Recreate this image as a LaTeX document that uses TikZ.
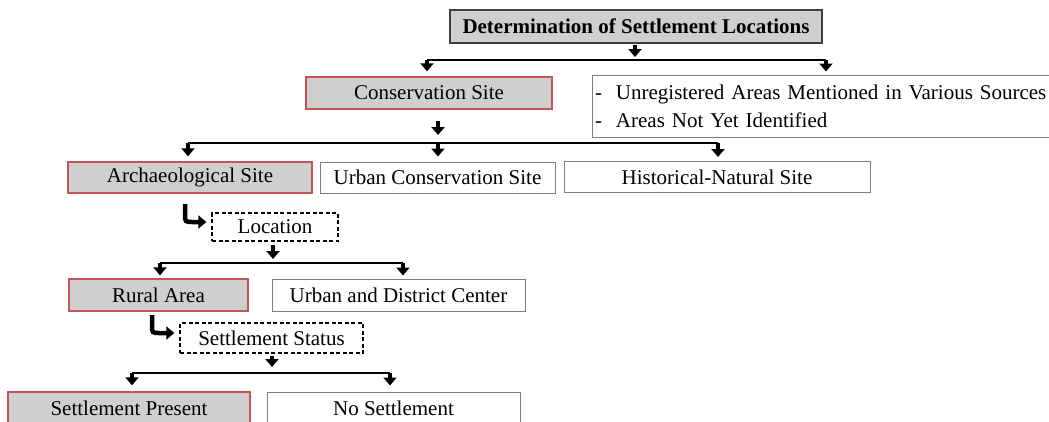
\documentclass[tikz,border=0pt]{standalone}
\usepackage{fontspec}
\setmainfont{Liberation Serif}
\usetikzlibrary{arrows.meta,calc}
\definecolor{boxgray}{RGB}{208,206,206}
\definecolor{boxred}{RGB}{196,84,90}
\definecolor{edgegray}{RGB}{125,125,125}
\begin{document}
\begin{tikzpicture}[x=1pt,y=-1pt,
  base/.style={font=\fontsize{21}{25}\selectfont, inner sep=0pt, anchor=center},
  redbox/.style={base, draw=boxred, line width=1.3pt, fill=boxgray},
  plainbox/.style={base, draw=edgegray, line width=1pt, fill=white},
  dashbox/.style={base, draw=black, line width=1.3pt, dash pattern=on 4pt off 2.5pt},
  titlebox/.style={base, draw=black!75, line width=1.8pt, fill=boxgray, font=\fontsize{21}{25}\selectfont\bfseries},
  arr/.style={line width=3.8pt, -{Triangle[width=13pt,length=8pt]}},
  bentarr/.style={line width=4.5pt, -{Triangle[width=13pt,length=8pt]}},
  hline/.style={line width=1.6pt},
]
\useasboundingbox (0,0) rectangle (1049,421);

% nodes
\node[titlebox, minimum width=372pt, minimum height=33pt] (title) at (636,26.5) {Determination of Settlement Locations};
\node[redbox, minimum width=246pt, minimum height=32pt] (cons) at (429,93) {Conservation Site};
\node[plainbox, minimum width=460pt, minimum height=62pt, text width=454pt, inner xsep=3pt, align=left,
      font=\fontsize{21}{28}\selectfont] (rb) at (822,106)
  {\makebox[21pt][l]{-}Unregistered Areas Mentioned in Various Sources\\\makebox[21pt][l]{-}Areas Not Yet Identified};
\node[redbox, minimum width=244pt, minimum height=31pt] (arch) at (190,177.5) {Archaeological Site};
\node[plainbox, minimum width=235pt, minimum height=31pt] (ucs) at (437.5,177.5) {Urban Conservation Site};
\node[plainbox, minimum width=306pt, minimum height=31pt] (hns) at (717,177) {Historical-Natural Site};
\node[dashbox, minimum width=126pt, minimum height=28pt] (loc) at (275,227) {Location};
\node[redbox, minimum width=179pt, minimum height=32pt] (rural) at (158.5,295) {Rural Area};
\node[plainbox, minimum width=253pt, minimum height=32pt] (udc) at (398.5,295) {Urban and District Center};
\node[dashbox, minimum width=183pt, minimum height=30pt] (status) at (271.5,338) {Settlement Status};
\node[redbox, minimum width=242pt, minimum height=32pt] (sp) at (129,408) {Settlement Present};
\node[plainbox, minimum width=253pt, minimum height=32pt] (ns) at (393.5,408) {No Settlement};

% level 1
\coordinate (t1) at (635,60);
\coordinate (h1a) at (427,60);
\coordinate (h1b) at (826,60);
\draw[arr, shorten <=1.5pt, shorten >=3pt] (title.south -| t1) -- (t1);
\draw[hline] (h1a) -- (h1b);
\draw[arr, shorten >=5pt] (h1a) -- (h1a |- cons.north);
\draw[arr, shorten >=3pt] (h1b) -- (h1b |- rb.north);

% level 2
\coordinate (t2) at (438,143);
\coordinate (h2a) at (188,143);
\coordinate (h2c) at (718,143);
\draw[arr, shorten <=11pt, shorten >=8pt] (cons.south -| t2) -- (t2);
\draw[hline] (h2a) -- (h2c);
\draw[arr, shorten >=5pt] (h2a) -- (h2a |- arch.north);
\draw[arr, shorten >=5pt] (t2) -- (t2 |- ucs.north);
\draw[arr, shorten >=4pt] (h2c) -- (h2c |- hns.north);

% bent arrow to Location
\coordinate (b1) at (185,204);
\coordinate (b1c) at (185,214);
\draw[bentarr] (b1) -- (b1c) .. controls ($(b1c)+(0,8)$) .. ($(b1c)+(8,8)$) -- ($(loc.west)+(-5,-5)$);

% level 3
\coordinate (t3) at (273,263);
\coordinate (h3a) at (160,263);
\coordinate (h3b) at (403,263);
\draw[arr, shorten <=3pt, shorten >=4pt] (loc.south -| t3) -- (t3);
\draw[hline] (h3a) -- (h3b);
\draw[arr, shorten >=3pt] (h3a) -- (h3a |- rural.north);
\draw[arr, shorten >=3pt] (h3b) -- (h3b |- udc.north);

% bent arrow to Settlement Status
\coordinate (b2) at (152,315);
\coordinate (b2c) at (152,325);
\draw[bentarr] (b2) -- (b2c) .. controls ($(b2c)+(0,8)$) .. ($(b2c)+(8,8)$) -- ($(status.west)+(-5,-5)$);

% level 4
\coordinate (t4) at (272,373);
\coordinate (h4a) at (132,373);
\coordinate (h4b) at (390,373);
\draw[arr, shorten <=2pt, shorten >=6pt] (status.south -| t4) -- (t4);
\draw[hline] (h4a) -- (h4b);
\draw[arr, shorten >=6pt] (h4a) -- (h4a |- sp.north);
\draw[arr, shorten >=6pt] (h4b) -- (h4b |- ns.north);
\end{tikzpicture}
\end{document}
